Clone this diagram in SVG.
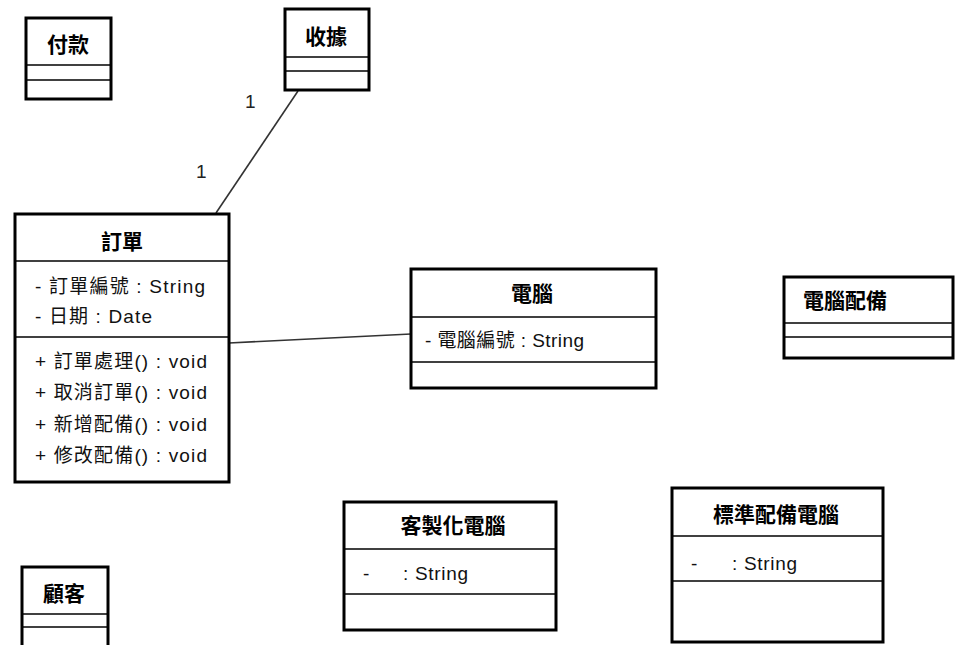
<svg xmlns="http://www.w3.org/2000/svg" width="955" height="645" viewBox="0 0 955 645">
<style>
.box{fill:#fff;stroke:#000;stroke-width:3}
.div{stroke:#000;stroke-width:1.5}
.t{font-family:"Noto Sans CJK TC","Liberation Sans",sans-serif;font-size:21px;font-weight:bold;text-anchor:middle;fill:#000}
.a{font-family:"Liberation Sans","Noto Sans CJK TC",sans-serif;font-size:19px;fill:#111}
.m{font-family:"Liberation Sans",sans-serif;font-size:19px;fill:#222}
.c{stroke:#333;stroke-width:1.6;fill:none}
</style>
<rect width="955" height="645" fill="#fff"/>
<g id="connectors">
<line class="c" x1="298" y1="91" x2="216" y2="213"/>
<text class="m" x="245" y="108">1</text>
<text class="m" x="196" y="178">1</text>
<line class="c" x1="229" y1="343" x2="411" y2="334"/>
</g>
<g id="fukuan">
<rect class="box" x="26" y="18" width="85" height="81"/>
<line class="div" x1="26" y1="65" x2="111" y2="65"/>
<line class="div" x1="26" y1="80" x2="111" y2="80"/>
<text class="t" x="68" y="52">付款</text>
</g>
<g id="shouju">
<rect class="box" x="285" y="9" width="84" height="81"/>
<line class="div" x1="285" y1="57" x2="369" y2="57"/>
<line class="div" x1="285" y1="71" x2="369" y2="71"/>
<text class="t" x="326" y="44">收據</text>
</g>
<g id="dingdan">
<rect class="box" x="15" y="214" width="214" height="268"/>
<line class="div" x1="15" y1="261" x2="229" y2="261"/>
<line class="div" x1="15" y1="337" x2="229" y2="337"/>
<text class="t" x="122" y="249">訂單</text>
<text class="a" x="35" y="293" textLength="170" lengthAdjust="spacing">- 訂單編號 : String</text>
<text class="a" x="35" y="323" textLength="117" lengthAdjust="spacing">- 日期 : Date</text>
<text class="a" x="35" y="368" textLength="172" lengthAdjust="spacing">+ 訂單處理() : void</text>
<text class="a" x="35" y="399" textLength="172" lengthAdjust="spacing">+ 取消訂單() : void</text>
<text class="a" x="35" y="431" textLength="172" lengthAdjust="spacing">+ 新增配備() : void</text>
<text class="a" x="35" y="462" textLength="172" lengthAdjust="spacing">+ 修改配備() : void</text>
</g>
<g id="diannao">
<rect class="box" x="411" y="269" width="245" height="119"/>
<line class="div" x1="411" y1="317" x2="656" y2="317"/>
<line class="div" x1="411" y1="362" x2="656" y2="362"/>
<text class="t" x="532" y="301">電腦</text>
<text class="a" x="425" y="347" textLength="159" lengthAdjust="spacing">- 電腦編號 : String</text>
</g>
<g id="diannaopeibei">
<rect class="box" x="784" y="277" width="169" height="81"/>
<line class="div" x1="784" y1="323" x2="953" y2="323"/>
<line class="div" x1="784" y1="337" x2="953" y2="337"/>
<text class="t" x="845" y="308">電腦配備</text>
</g>
<g id="guke">
<rect class="box" x="22" y="567" width="86" height="90"/>
<line class="div" x1="22" y1="614" x2="108" y2="614"/>
<line class="div" x1="22" y1="627" x2="108" y2="627"/>
<text class="t" x="64" y="601">顧客</text>
</g>
<g id="kezhihua">
<rect class="box" x="344" y="502" width="212" height="128"/>
<line class="div" x1="344" y1="549" x2="556" y2="549"/>
<line class="div" x1="344" y1="594" x2="556" y2="594"/>
<text class="t" x="453" y="533">客製化電腦</text>
<text class="a" x="363" y="580">-</text>
<text class="a" x="403" y="580" textLength="65" lengthAdjust="spacing">: String</text>
</g>
<g id="biaozhun">
<rect class="box" x="672" y="488" width="211" height="154"/>
<line class="div" x1="672" y1="536" x2="883" y2="536"/>
<line class="div" x1="672" y1="581" x2="883" y2="581"/>
<text class="t" x="776" y="522">標準配備電腦</text>
<text class="a" x="691" y="570">-</text>
<text class="a" x="732" y="570" textLength="65" lengthAdjust="spacing">: String</text>
</g>
</svg>
